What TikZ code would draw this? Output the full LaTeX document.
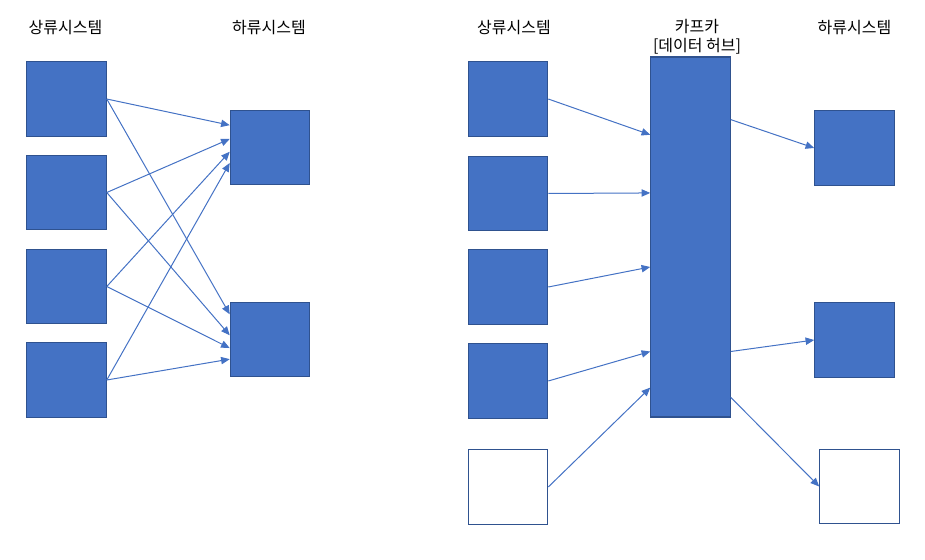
\documentclass[tikz,border=0pt]{standalone}
\usepackage{fontspec}
\setmainfont{Noto Sans CJK KR}
\usepackage{tikz}
\usetikzlibrary{arrows.meta,calc}
\definecolor{boxfill}{HTML}{4472C4}
\definecolor{boxline}{HTML}{2F528F}
\tikzset{
    sys/.style = {
        draw=boxline,
        fill=boxfill,
        shape=rectangle,
        minimum width=59.5pt,
        minimum height=56pt,
        line width=0.9pt
    },
    emptysys/.style = {
        sys,
        fill=white
    },
    hubbox/.style = {
        sys,
        minimum height=270pt
    },
    title/.style = {
        font=\fontsize{12}{14.25}\selectfont,
        align=center,
        inner sep=0pt
    },
    flow/.style = {
        draw=boxfill,
        line width=0.75pt,
        -{Triangle[length=6.5pt,width=5.5pt]}
    },
}
\begin{document}
\begin{tikzpicture}[x=0.75pt,y=-0.75pt]
        \useasboundingbox (0,0) rectangle (925,560);

        % direct point-to-point
        \node[title] (upa) at (65.5,27.5) {상류시스템};
        \node[title] (downa) at (269,27.5) {하류시스템};
        \node[sys] (ua1) at (66.5,99) {};
        \node[sys] (ua2) at (66.5,192.5) {};
        \node[sys] (ua3) at (66.5,286.5) {};
        \node[sys] (ua4) at (66.5,380) {};
        \node[sys] (da1) at (270,147.5) {};
        \node[sys] (da2) at (270,339.5) {};

        \path[flow] (ua1.east) -- (da1.151);
        \path[flow] (ua2.east) -- (da1.168);
        \path[flow] (ua3.east) -- (da1.186);
        \path[flow] (ua4.east) -- (da1.201);
        \path[flow] (ua1.east) -- (da2.148);
        \path[flow] (ua2.east) -- (da2.174);
        \path[flow] (ua3.east) -- (da2.192);
        \path[flow] (ua4.east) -- (da2.206);

        % via the hub
        \node[title] (upb) at (514,27.5) {상류시스템};
        \node[title] (hubname) at (697,36.5) {카프카\\{[}데이터 허브]};
        \node[title] (downb) at (854.5,27.5) {하류시스템};
        \node[sys] (ub1) at (508,99) {};
        \node[sys] (ub2) at (508,193.5) {};
        \node[sys] (ub3) at (508,287) {};
        \node[sys] (ub4) at (508,381) {};
        \node[emptysys] (ub5) at (508,487) {};
        \node[hubbox] (hub) at (690.5,237) {};
        \node[sys] (db1) at (854.5,148) {};
        \node[sys] (db2) at (854.5,340) {};
        \node[emptysys] (db3) at (859.5,486.5) {};

        \path[flow] (ub1.east) -- ($(hub.north west)!0.217!(hub.south west)$);
        \path[flow] (ub2.east) -- ($(hub.north west)!0.378!(hub.south west)$);
        \path[flow] (ub3.east) -- ($(hub.north west)!0.583!(hub.south west)$);
        \path[flow] (ub4.east) -- ($(hub.north west)!0.817!(hub.south west)$);
        \path[flow] (ub5.east) -- ($(hub.north west)!0.917!(hub.south west)$);
        \path[flow] ($(hub.north east)!0.175!(hub.south east)$) -- (db1.west);
        \path[flow] ($(hub.north east)!0.817!(hub.south east)$) -- (db2.west);
        \path[flow] ($(hub.north east)!0.944!(hub.south east)$) -- (db3.west);
\end{tikzpicture}
\end{document}
